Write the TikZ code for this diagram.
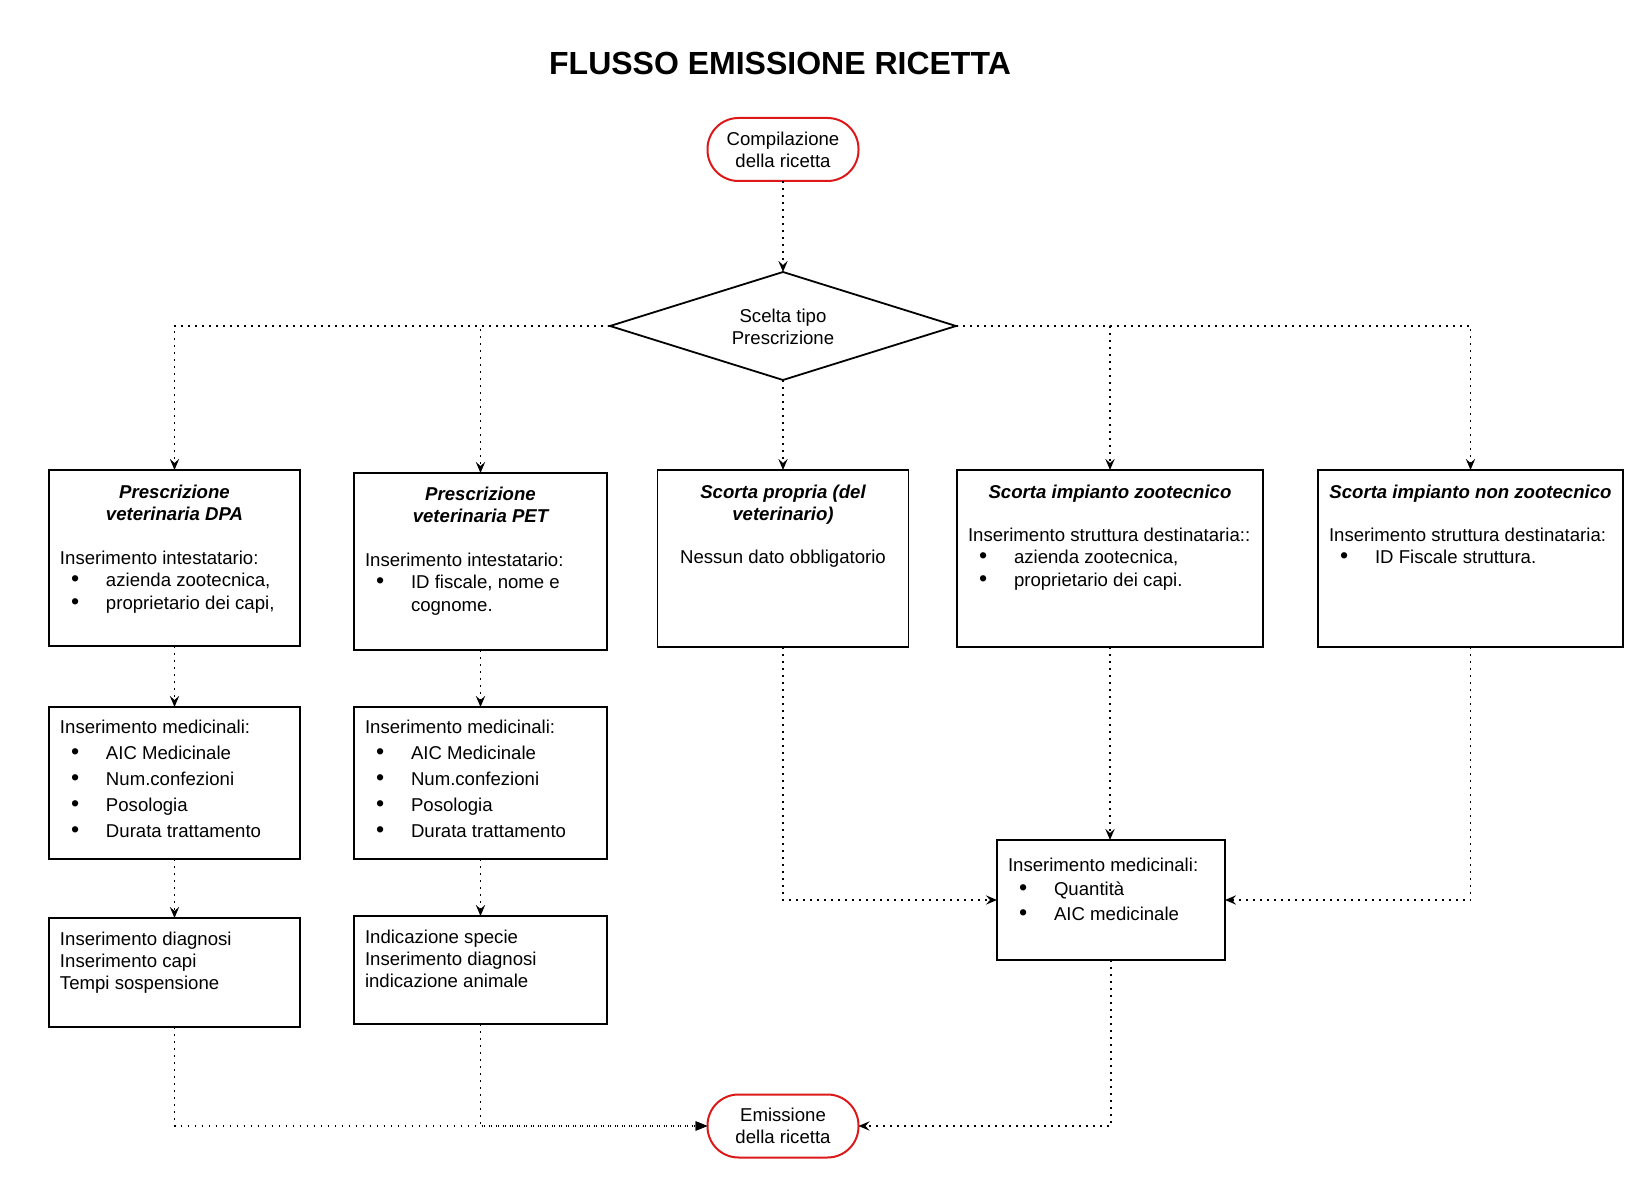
\documentclass[tikz,border=0pt]{standalone}
\usepackage{fontspec}
\setmainfont{Liberation Sans}
\usetikzlibrary{arrows.meta,shapes.geometric}
\definecolor{termred}{RGB}{220,24,24}
\newcommand{\blt}[1]{\makebox[23pt][l]{\hspace{5.6pt}\scalebox{1.25}{\textbullet}}#1}
\begin{document}
\begin{tikzpicture}[x=0.5pt,y=-0.5pt,
  box/.style={draw=black,line width=0.9pt,rectangle,inner sep=0pt,outer sep=0pt},
  term/.style={draw=termred,line width=1pt,rounded corners=15.5pt,minimum width=75.5pt,minimum height=31.5pt,inner sep=0pt,outer sep=0pt,align=center,font=\fontsize{9.3pt}{11pt}\selectfont},
  txt/.style={inner sep=0pt,outer sep=0pt,align=left,font=\fontsize{9.3pt}{11.25pt}\selectfont},
  hdr/.style={inner sep=0pt,outer sep=0pt,align=center,font=\fontsize{9.3pt}{11pt}\selectfont\bfseries\itshape},
  conn/.style={draw=black,line width=0.9pt,dash pattern=on 0.9pt off 2.6pt},
  arr/.style={-{Stealth[length=5.5pt,width=4.6pt,inset=2pt]}},
  arrT/.style={-{Triangle[length=6pt,width=4.5pt]}}
]
\useasboundingbox (0,0) rectangle (1651,1197);

% title
\node[inner sep=0pt,font=\fontsize{16pt}{19pt}\selectfont\bfseries] (title) at (780,63) {FLUSSO EMISSIONE RICETTA};

% terminals
\node[term] (start) at (783,149.5) {Compilazione\\della ricetta};
\node[term] (end) at (783,1126) {Emissione\\della ricetta};

% decision
\node[draw=black,line width=0.9pt,shape=diamond,minimum width=173pt,minimum height=54pt,inner sep=0pt,outer sep=0pt] (dia) at (783,326) {};
\node[inner sep=0pt,align=center,font=\fontsize{9.3pt}{11pt}\selectfont] (diat) at (783,326.5) {Scelta tipo\\Prescrizione};

% first row boxes
\node[box,minimum width=125.5pt,minimum height=88pt] (dpa) at (174.5,558) {};
\node[box,minimum width=126.5pt,minimum height=88.5pt] (pet) at (480.5,561.5) {};
\node[box,minimum width=125.5pt,minimum height=88.5pt] (sp) at (783,558.5) {};
\node[box,minimum width=153pt,minimum height=88.5pt] (zoo) at (1110,558.5) {};
\node[box,minimum width=152.5pt,minimum height=88.5pt] (non) at (1470.5,558.5) {};

% second row
\node[box,minimum width=125.5pt,minimum height=76pt] (dpamed) at (174.5,783) {};
\node[box,minimum width=126.5pt,minimum height=76pt] (petmed) at (480.5,783) {};
\node[box,minimum width=114pt,minimum height=60pt] (med) at (1111,900) {};

% third row
\node[box,minimum width=125.5pt,minimum height=54.5pt] (dpadiag) at (174.5,972.5) {};
\node[box,minimum width=126.5pt,minimum height=54pt] (petdiag) at (480.5,970) {};

% texts (base anchor = baseline of the last line)
\node[hdr,anchor=base] (dpah) at (174.5,520.5) {Prescrizione\\veterinaria DPA};
\node[txt,anchor=base west] (dpab) at (60,609.5) {Inserimento intestatario:\\\blt{azienda zootecnica,}\\\blt{proprietario dei capi,}};

\node[hdr,anchor=base] (peth) at (480.5,522.5) {Prescrizione\\veterinaria PET};
\node[txt,anchor=base west] (petb) at (365,611.5) {Inserimento intestatario:\\\blt{ID fiscale, nome e}\\\hspace{23pt}cognome.};

\node[hdr,anchor=base] (sph) at (783,520.5) {Scorta propria (del\\veterinario)};
\node[txt,anchor=base] (spb) at (783,563.5) {Nessun dato obbligatorio};

\node[hdr,anchor=base] (zooh) at (1110,498.5) {Scorta impianto zootecnico};
\node[txt,anchor=base west] (zoob) at (968,586.5) {Inserimento struttura destinataria::\\\blt{azienda zootecnica,}\\\blt{proprietario dei capi.}};

\node[hdr,anchor=base] (nonh) at (1470.5,498.5) {Scorta impianto non zootecnico};
\node[txt,anchor=base west] (nonb) at (1329,564) {Inserimento struttura destinataria:\\\blt{ID Fiscale struttura.}};

\node[txt,anchor=base west,font=\fontsize{9.3pt}{13pt}\selectfont] (dpamedt) at (60,837.5) {Inserimento medicinali:\\\blt{AIC Medicinale}\\\blt{Num.confezioni}\\\blt{Posologia}\\\blt{Durata trattamento}};
\node[txt,anchor=base west,font=\fontsize{9.3pt}{13pt}\selectfont] (petmedt) at (365,837.5) {Inserimento medicinali:\\\blt{AIC Medicinale}\\\blt{Num.confezioni}\\\blt{Posologia}\\\blt{Durata trattamento}};

\node[txt,anchor=base west,font=\fontsize{9.3pt}{11pt}\selectfont] (dpadiagt) at (60,989.5) {Inserimento diagnosi\\Inserimento capi\\Tempi sospensione};
\node[txt,anchor=base west,font=\fontsize{9.3pt}{11pt}\selectfont] (petdiagt) at (365,987.5) {Indicazione specie\\Inserimento diagnosi\\indicazione animale};

\node[txt,anchor=base west,font=\fontsize{9.3pt}{12.2pt}\selectfont] (medt) at (1008,920.3) {Inserimento medicinali:\\\blt{Quantità}\\\blt{AIC medicinale}};

% connectors
\draw[conn,arr] (start.south) -- (dia.north);
\draw[conn,arr] (dia.west) -| (dpa.north);
\draw[conn,arr] (dia.west) -| (pet.north);
\draw[conn,arr] (dia.south) -- (sp.north);
\draw[conn,arr] (dia.east) -| (zoo.north);
\draw[conn,arr] (dia.east) -| (non.north);
\draw[conn,arr] (dpa.south) -- (dpamed.north);
\draw[conn,arr] (dpamed.south) -- (dpadiag.north);
\draw[conn,arr] (pet.south) -- (petmed.north);
\draw[conn,arr] (petmed.south) -- (petdiag.north);
\draw[conn,arr] (sp.south) |- (med.west);
\draw[conn,arr] (zoo.south) -- (zoo.south |- med.north);
\draw[conn,arr] (non.south) |- (med.east);
\draw[conn,arrT] (dpadiag.south) |- (end.west);
\draw[conn,arrT] (petdiag.south) |- (end.west);
\draw[conn,arr] (med.south) |- (end.east);
\end{tikzpicture}
\end{document}
